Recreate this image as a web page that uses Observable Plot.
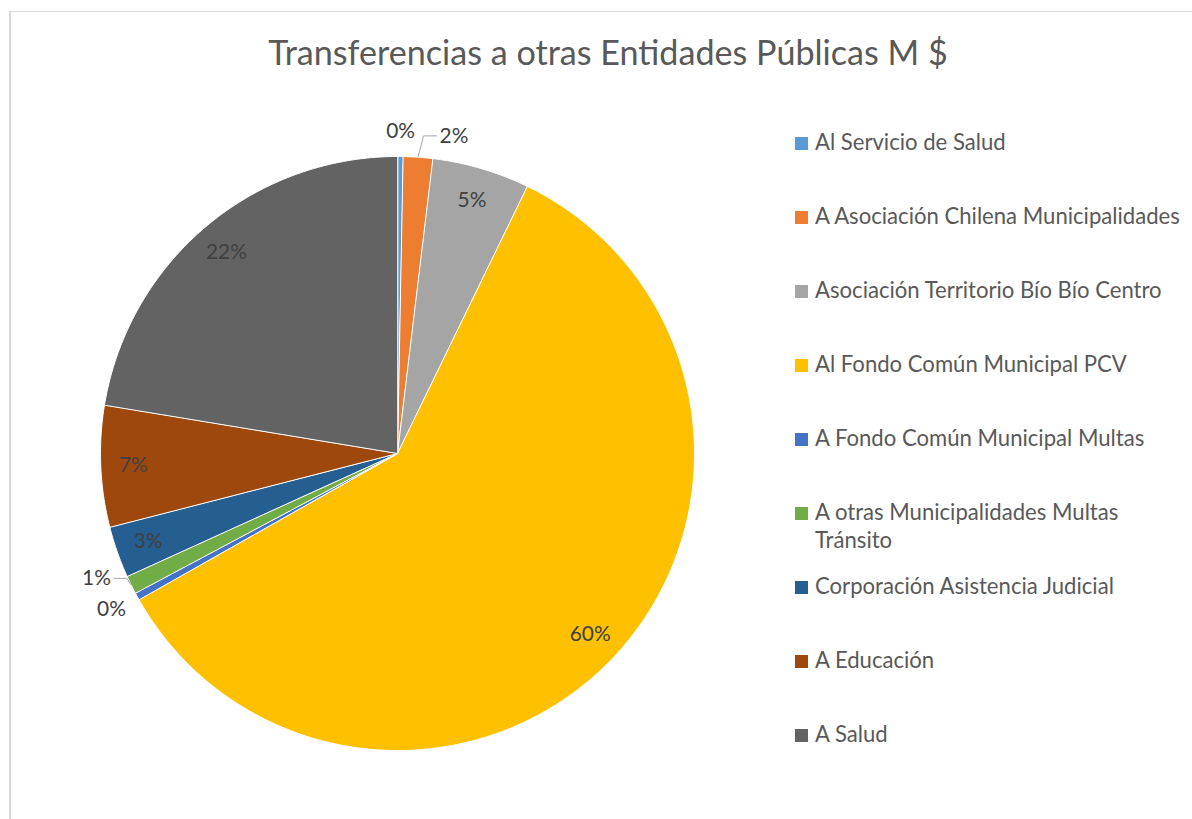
<!DOCTYPE html>
<html><head><meta charset="utf-8">
<script src="https://cdn.jsdelivr.net/npm/d3@7"></script>
<script src="https://cdn.jsdelivr.net/npm/@observablehq/plot@0.6"></script>
<style>
body{margin:0;background:#fff;}
#chart{width:1192px;height:819px;overflow:hidden;}
</style>
</head><body><div id="chart"></div>
<script>
const title = "Transferencias a otras Entidades Públicas M $";
const categories = [
  "Al Servicio de Salud",
  "A Asociación Chilena Municipalidades",
  "Asociación Territorio Bío Bío Centro",
  "Al Fondo Común Municipal PCV",
  "A Fondo Común Municipal Multas",
  "A otras Municipalidades Multas Tránsito",
  "Corporación Asistencia Judicial",
  "A Educación",
  "A Salud"
];
const values = [0.3, 1.6, 5.3, 59.6, 0.4, 1.0, 2.8, 6.6, 22.4];
const colors = ["#5B9BD5","#ED7D31","#A5A5A5","#FFC000","#4472C4","#70AD47","#255E91","#9E480E","#636363"];

const W = 1192, H = 819, CX = 397, CY = 453, R = 297;
const FONT = "Lato, 'Open Sans', sans-serif";

// text measuring with the real rendered font
const msvg = d3.select("body").append("svg").attr("width", 10).attr("height", 10)
  .style("position", "absolute").style("left", "-2000px");
const mtext = msvg.append("text").attr("font-family", FONT);
function tw(text, size){ mtext.attr("font-size", size).text(text); return mtext.node().getComputedTextLength(); }
const titleSize = 32 * 680 / tw(title, 32);
const legendSize = 20 * 365 / tw("A Asociación Chilena Municipalidades", 20);
const labelSize = 18 * 41 / tw("60%", 18);

const total = d3.sum(values);
let acc = 0;
const slices = values.map((v, i) => {
  const a0 = acc / total * 2 * Math.PI; acc += v;
  const a1 = acc / total * 2 * Math.PI;
  return {i, name: categories[i], pct: v / total, a0, a1, mid: (a0 + a1) / 2, color: colors[i]};
});
function slicePts(s){
  const p = [{x: 0, y: 0}];
  const n = Math.max(2, Math.ceil((s.a1 - s.a0) * 180 / Math.PI * 2));
  for (let k = 0; k <= n; k++){ const a = s.a0 + (s.a1 - s.a0) * k / n; p.push({x: Math.sin(a), y: Math.cos(a)}); }
  return p;
}
const fmt = d3.format(".0%");
const toX = px => (px - CX) / R, toY = py => (CY - py) / R;

// labels
const inside = [], outside = [], leaders = [];
const placed = [];
const gap = 14, padX = 22, padY = 6;
for (const s of slices){
  const text = fmt(s.pct);
  if (s.pct >= 0.025){
    inside.push({x: 0.89 * Math.sin(s.mid), y: 0.89 * Math.cos(s.mid), text});
    continue;
  }
  const hw = tw(text, labelSize) / 2 + 1, hh = labelSize * 0.55;
  let a = s.mid, box;
  for (let it = 0; it < 200; it++){
    const px = CX + (R + gap) * Math.sin(a), py = CY - (R + gap) * Math.cos(a);
    const cx = px + Math.sin(a) * hw, cy = py - Math.cos(a) * hh;
    box = {x0: cx - hw, x1: cx + hw, y0: cy - hh, y1: cy + hh, cx, cy};
    const hit = placed.some(b => box.x0 < b.x1 + padX && box.x1 > b.x0 - padX && box.y0 < b.y1 + padY && box.y1 > b.y0 - padY);
    if (!hit) break;
    a += Math.PI / 360;
  }
  placed.push(box);
  outside.push({x: toX(box.cx), y: toY(box.cy), text});
  if (Math.abs(a - s.mid) > Math.PI / 180){
    const ax = CX + R * Math.sin(s.mid), ay = CY - R * Math.cos(s.mid);
    const right = box.cx > ax;
    const ex = right ? box.x0 - 2 : box.x1 + 2;
    const kx = right ? ex - 13 : ex + 13;
    const id = "L" + s.i;
    leaders.push({id, x: toX(ax), y: toY(ay)}, {id, x: toX(kx), y: toY(box.cy)}, {id, x: toX(ex), y: toY(box.cy)});
  }
}

const marks = slices.map(s => Plot.line(slicePts(s), {
  x: "x", y: "y", fill: s.color, stroke: "#ffffff", strokeWidth: 1, curve: "linear-closed"
}));
marks.push(
  Plot.line(leaders, {x: "x", y: "y", z: "id", stroke: "#a6a6a6", strokeWidth: 1}),
  Plot.text(inside, {x: "x", y: "y", text: "text", fill: "#404040", fontSize: labelSize, textAnchor: "middle", lineAnchor: "middle"}),
  Plot.text(outside, {x: "x", y: "y", text: "text", fill: "#404040", fontSize: labelSize, textAnchor: "middle", lineAnchor: "middle"})
);

const svg = Plot.plot({
  width: W, height: H, margin: 0,
  x: {domain: [-1, 1], range: [CX - R, CX + R], axis: null},
  y: {domain: [-1, 1], range: [CY + R, CY - R], axis: null},
  style: {background: "#ffffff", fontFamily: FONT, overflow: "visible"},
  marks
});
document.getElementById("chart").appendChild(svg);
msvg.remove();

const g = d3.select(svg).append("g").attr("font-family", FONT).attr("text-anchor", "start");
// chart frame
g.append("line").attr("x1", 10).attr("x2", 10).attr("y1", 11).attr("y2", H).attr("stroke", "#d9d9d9").attr("stroke-width", 2);
g.append("line").attr("x1", 9).attr("x2", W).attr("y1", 11.5).attr("y2", 11.5).attr("stroke", "#d9d9d9").attr("stroke-width", 1);
// title
g.append("text").attr("x", 608).attr("y", 65).attr("text-anchor", "middle")
  .attr("font-size", titleSize).attr("fill", "#595959").text(title);
// legend
const maxW = 370;
function wrap(t){
  const words = t.split(" "), lines = []; let cur = "";
  for (const w of words){ const c = cur ? cur + " " + w : w; if (tw2(c) > maxW && cur){ lines.push(cur); cur = w; } else cur = c; }
  lines.push(cur); return lines;
}
const m2 = g.append("text").attr("font-size", legendSize).attr("visibility", "hidden");
function tw2(t){ m2.text(t); return m2.node().getComputedTextLength(); }
categories.forEach((c, i) => {
  const base = 150 + 74 * i;
  g.append("rect").attr("x", 795).attr("y", base - 13).attr("width", 13).attr("height", 13).attr("fill", colors[i]);
  wrap(c).forEach((ln, k) => {
    g.append("text").attr("x", 815).attr("y", base + 28 * k).attr("text-anchor", "start")
      .attr("font-size", legendSize).attr("fill", "#595959").text(ln);
  });
});
m2.remove();
</script>
</body></html>
